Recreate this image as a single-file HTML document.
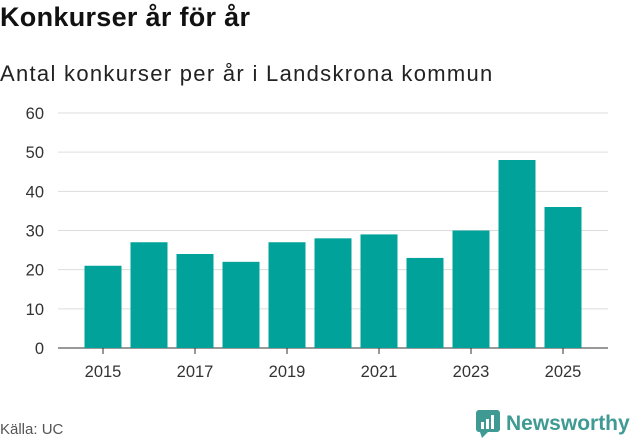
<!DOCTYPE html>
<html><head><meta charset="utf-8"><style>
body{margin:0;width:631px;height:439px;background:#fff;font-family:"Liberation Sans",sans-serif;overflow:hidden;position:relative}
.t{position:absolute;left:0;top:2px;font-size:27px;font-weight:bold;color:#111;letter-spacing:0.3px}
.s{position:absolute;left:0;top:61px;font-size:22px;color:#222;letter-spacing:1.3px}
.src{position:absolute;left:0;top:421px;font-size:15px;color:#555}
</style></head><body>
<div class="t">Konkurser år för år</div>
<div class="s">Antal konkurser per år i Landskrona kommun</div>
<svg id="c" width="631" height="439" style="position:absolute;left:0;top:0"></svg>
<div class="src">Källa: UC</div>
<div style="position:absolute;left:476px;top:410px;display:flex;align-items:center">
<svg width="24" height="28"><rect x="0" y="0" width="24" height="22" rx="3" fill="#3e9a92"/><polygon points="4,22 12,22 6,28" fill="#3e9a92"/><rect x="5" y="12" width="3" height="7" fill="#fff"/><rect x="10" y="9" width="3" height="10" fill="#fff"/><rect x="15" y="5" width="3" height="14" fill="#fff"/></svg>
<span style="font-size:21px;color:#3e9a92;margin-left:6px;font-weight:bold">Newsworthy</span></div>
<script>
const years=[2015,2016,2017,2018,2019,2020,2021,2022,2023,2024,2025];
const values=[21,27,24,22,27,28,29,23,30,48,36];
const yTicks=[0,10,20,30,40,50,60];
const xLabels=[2015,2017,2019,2021,2023,2025];
const svg=document.getElementById('c');const NS='http://www.w3.org/2000/svg';
const y=v=>348-v*235/60;
const x=yr=>103+(yr-2015)*46;
function mk(t,a){const e=document.createElementNS(NS,t);for(const k in a)e.setAttribute(k,a[k]);svg.appendChild(e);return e;}
yTicks.forEach(v=>{
const l=mk('line',{x1:58,x2:608,y1:y(v),y2:y(v),stroke:v?'#ddd':'#333','stroke-width':1});


const t=mk('text',{x:44,y:y(v)+6,'text-anchor':'end','font-size':16.5,fill:'#333','font-family':'Liberation Sans'});
t.textContent=v;


});
years.forEach((yr,i)=>{
const b=mk('rect',{x:x(yr)-18.5,y:y(values[i]),width:37,height:348-y(values[i]),fill:'#00a29a'});


});
xLabels.forEach(yr=>{
mk('line',{x1:x(yr),x2:x(yr),y1:348,y2:354,stroke:'#333'});
const t=mk('text',{x:x(yr),y:377,'text-anchor':'middle','font-size':16.5,fill:'#333','font-family':'Liberation Sans'});
t.textContent=yr;


});
</script>
</body></html>
